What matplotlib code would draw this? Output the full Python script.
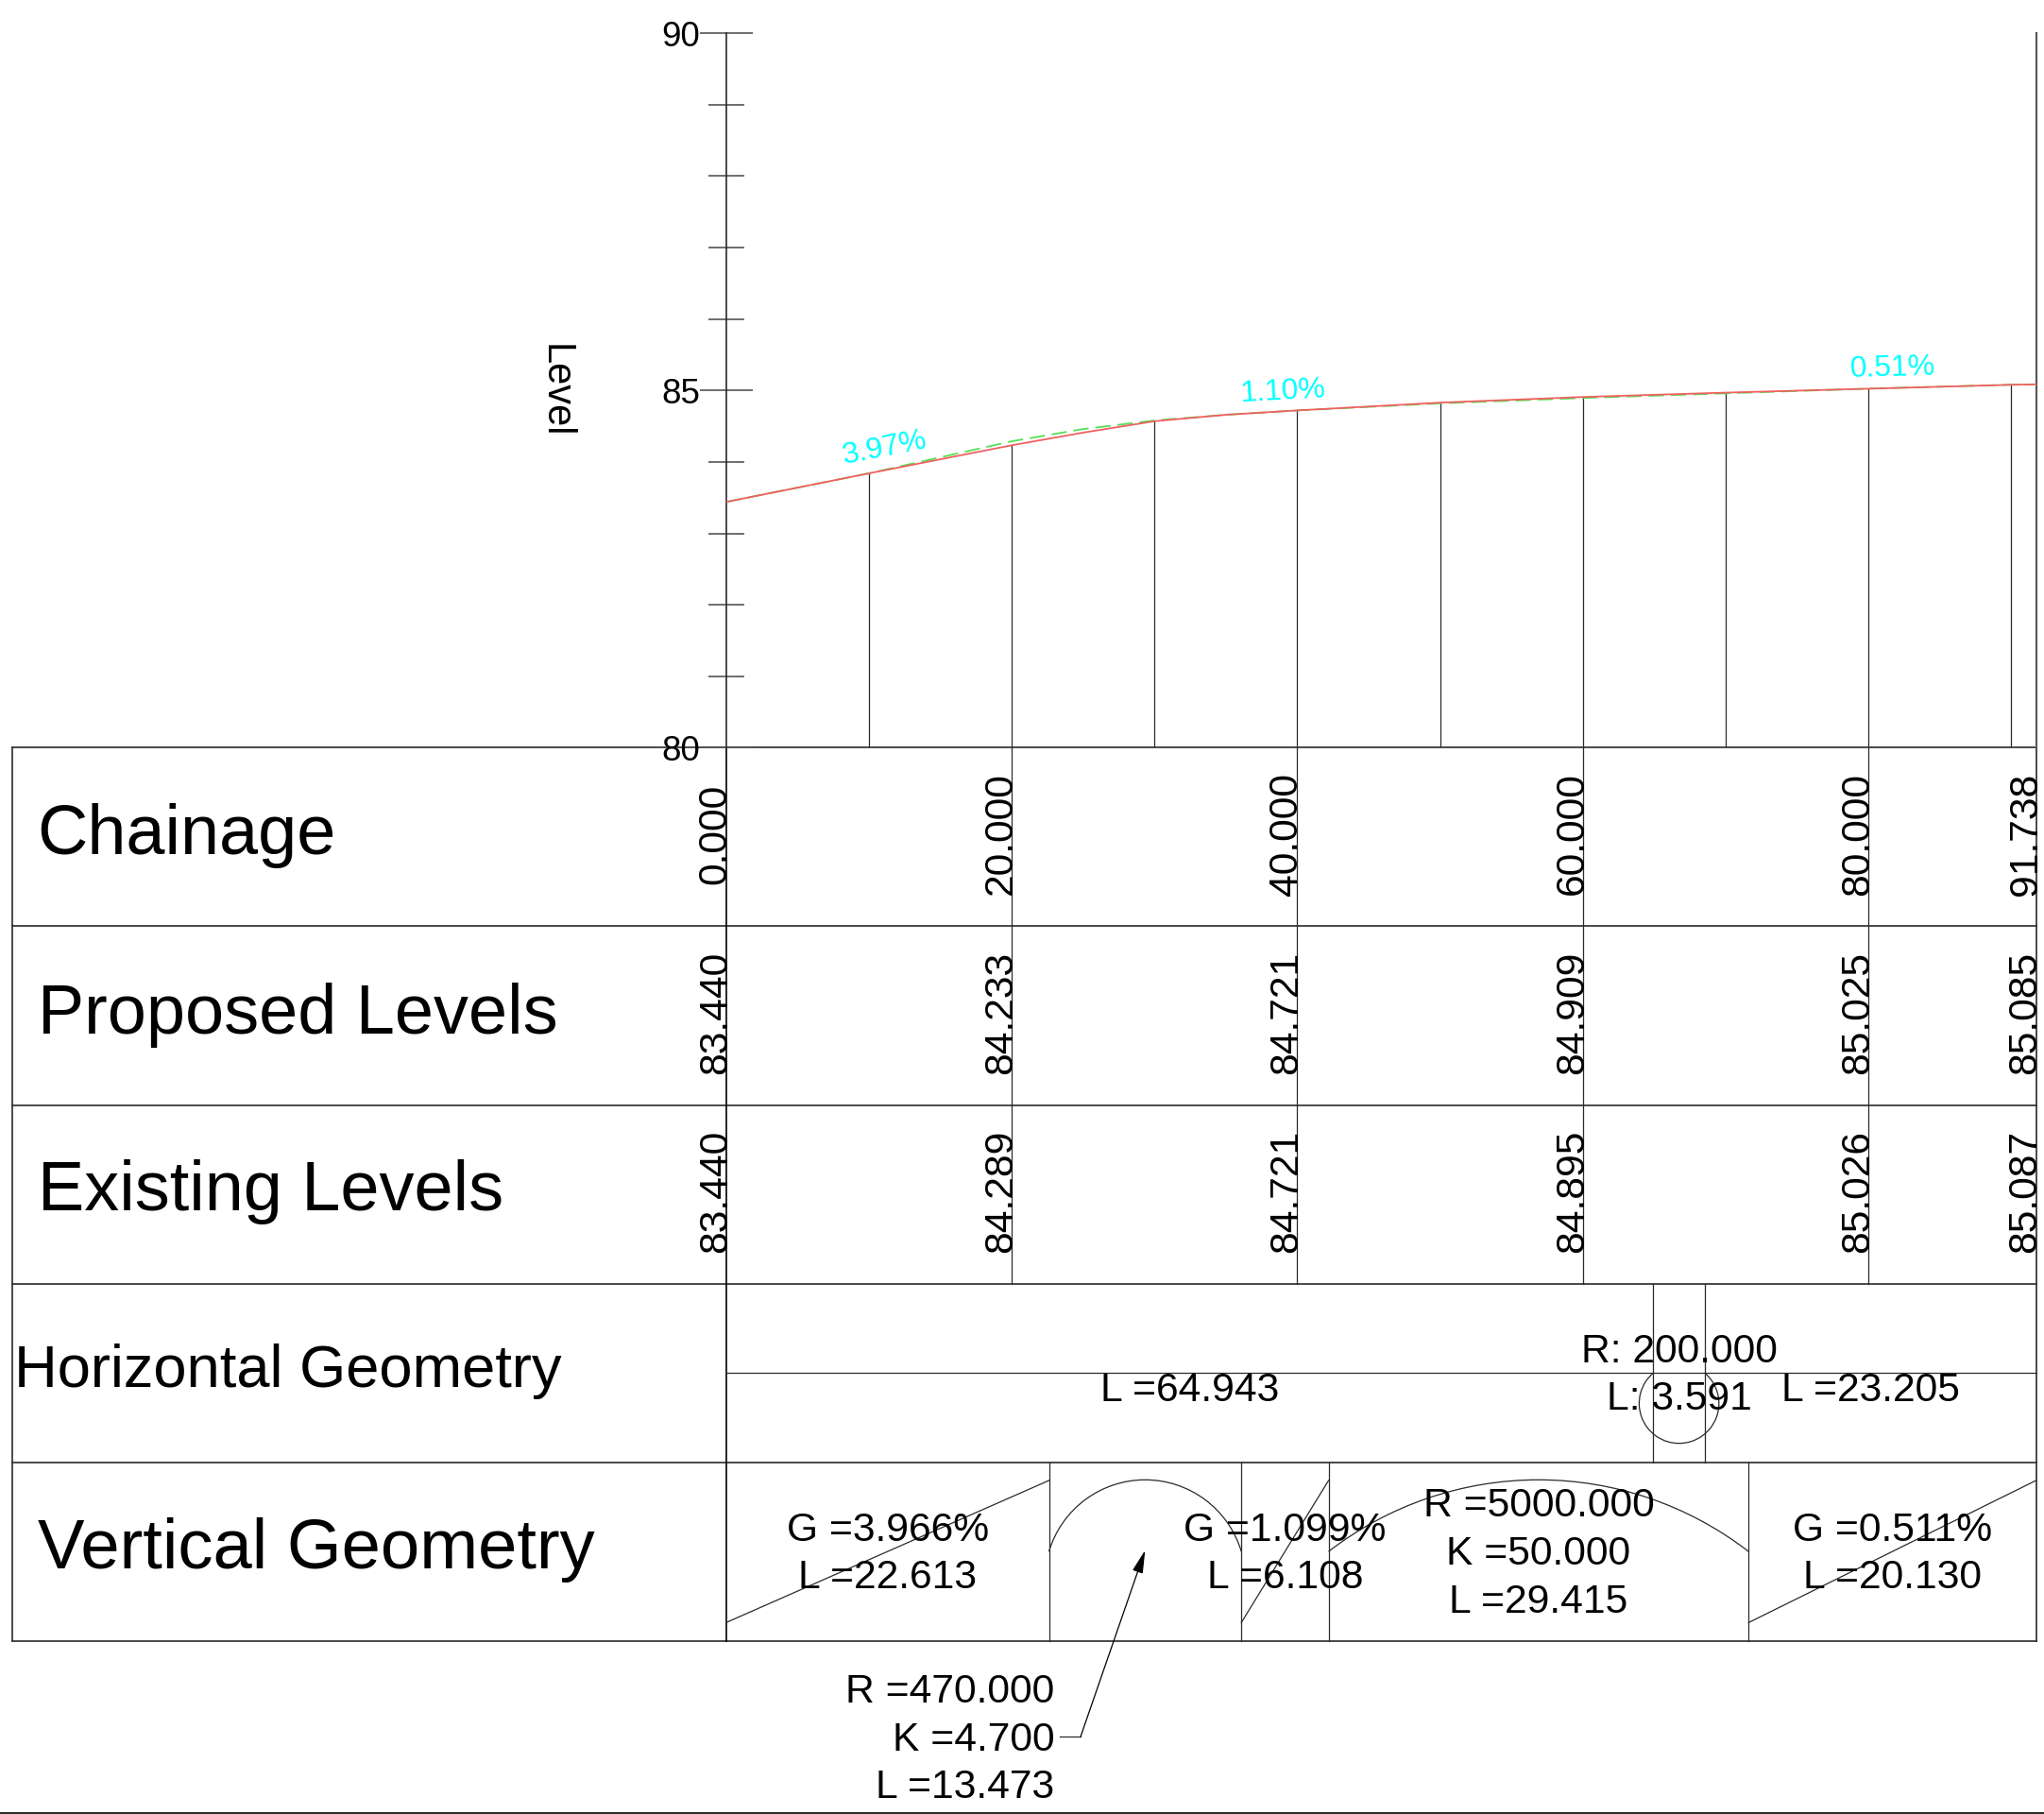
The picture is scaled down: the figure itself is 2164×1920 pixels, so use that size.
import matplotlib
matplotlib.use('Agg')
import matplotlib.pyplot as plt
from matplotlib.patches import Arc
import numpy as np

plt.rcParams['font.family'] = ['Liberation Sans', 'DejaVu Sans']

# long section data
stations = [0, 10, 20, 25, 30, 35, 40, 50, 60, 70, 80, 90, 91.738]
proposed = [83.44, 83.84, 84.233, 84.41, 84.57, 84.66, 84.721, 84.83, 84.909, 84.97, 85.025, 85.08, 85.085]
existing = [83.44, 83.84, 84.289, 84.46, 84.58, 84.66, 84.721, 84.82, 84.895, 84.96, 85.026, 85.08, 85.087]
grid_stations = [10, 20, 30, 40, 50, 60, 70, 80, 90]

label_ch = [0, 20, 40, 60, 80, 91.738]
chainage_txt = ['0.000', '20.000', '40.000', '60.000', '80.000', '91.738']
proposed_txt = ['83.440', '84.233', '84.721', '84.909', '85.025', '85.085']
existing_txt = ['83.440', '84.289', '84.721', '84.895', '85.026', '85.087']

row_names = ['Chainage', 'Proposed Levels', 'Existing Levels', 'Horizontal Geometry', 'Vertical Geometry']

# geometry lengths along the chainage
h_lengths = [64.943, 3.591, 23.205]
v_lengths = [22.613, 13.473, 6.108, 29.415, 20.130]
v_grades = ['3.966', '1.099', '0.511']

grade_txt = ['3.97%', '1.10%', '0.51%']
grade_x = [11.1, 39.0, 81.7]
grade_y = [84.19, 84.98, 85.31]
grade_rot = [11, 3, 1.5]

# sizes below are in overview pixels of the reference
S = 1.38
W, H = 2164, 1920
x0 = 557 * S
x1 = 1562 * S
k = (x1 - x0) / 91.738
y80 = 573.5 * S
y90 = 25.5 * S


def Y(o):
    # overview pixel row -> y of the table axes
    return -(o * S - y80) / k


def curve(ax, a, b, base, sag):
    # circular arc over the chord a-b, negative sag hangs below it
    h = (b - a) / 2
    s = abs(sag)
    r = (h * h + s * s) / (2 * s)
    t = np.degrees(np.arctan2(h, r - s))
    if sag > 0:
        cy, t1, t2 = base + s - r, 90 - t, 90 + t
    else:
        cy, t1, t2 = base - s + r, 270 - t, 270 + t
    ax.add_patch(Arc(((a + b) / 2, cy), 2 * r, 2 * r, theta1=t1, theta2=t2, color=LINE, lw=LW))


LINE = '#2a2a2a'
LW = 0.9
TXT = 30.7

fig = plt.figure(figsize=(W / 100, H / 100), dpi=100)

# table and everything else, same scale both ways
tb = fig.add_axes([0, 0, 1, 1])
tb.set_xlim(-x0 / k, (W - x0) / k)
tb.set_ylim(-(H - y80) / k, y80 / k)
tb.axis('off')

left = -(557 - 9.5) * S / k
right = 91.738
rows = [573.5, 710.5, 847.5, 984.5, 1121.5, 1258.5]
for r in rows:
    tb.plot([left, right], [Y(r), Y(r)], color=LINE, lw=LW + 0.3)
tb.plot([left, left], [Y(rows[0]), Y(rows[-1])], color=LINE, lw=LW + 0.3)
tb.plot([right, right], [Y(rows[0]), Y(rows[-1])], color=LINE, lw=LW + 0.3)
tb.plot([0, 0], [Y(rows[0]), Y(rows[-1])], color='black', lw=LW + 0.3)

for c in label_ch[1:-1]:
    tb.plot([c, c], [Y(rows[0]), Y(rows[3])], color=LINE, lw=LW)

row_y = [635.5, 773, 909, 1047, 1183]
row_x = [28.5, 29, 29, 11, 29]
row_size = [53.2, 53.2, 53.2, 45.5, 53.5]
for name, o, ox, fs in zip(row_names, row_y, row_x, row_size):
    tb.text((ox - 557) * S / k, Y(o), name, fontsize=fs, ha='left', va='center_baseline')

for i, c in enumerate(label_ch):
    for txts, o in zip([chainage_txt, proposed_txt, existing_txt], [639.5, 776.5, 913.5]):
        tb.text(c, Y(o), txts[i], fontsize=TXT, rotation=90, rotation_mode='anchor',
                ha='center', va='baseline', clip_on=True)

# horizontal geometry
h_ends = np.cumsum(h_lengths)
h_mid = Y(1053)
tb.plot([0, right], [h_mid, h_mid], color=LINE, lw=LW)
for c in h_ends[:2]:
    tb.plot([c, c], [Y(rows[3]), Y(rows[4])], color=LINE, lw=LW)
curve(tb, h_ends[0], h_ends[1], h_mid, -(1107 - 1053) * S / k)
tb.text(h_ends[0] / 2, Y(1067), 'L =%.3f' % h_lengths[0], fontsize=TXT, ha='center', va='center')
tb.text((h_ends[1] + h_ends[2]) / 2, Y(1067), 'L =%.3f' % h_lengths[2], fontsize=TXT, ha='center', va='center')
hc = (h_ends[0] + h_ends[1]) / 2
tb.text(hc, Y(1037), 'R: 200.000', fontsize=TXT, ha='center', va='center')
tb.text(hc, Y(1073), 'L: %.3f' % h_lengths[1], fontsize=TXT, ha='center', va='center')

# vertical geometry
v_ends = np.cumsum(v_lengths)
v_start = np.concatenate([[0], v_ends[:-1]])
for c in v_ends[:-1]:
    tb.plot([c, c], [Y(rows[4]), Y(rows[5])], color=LINE, lw=LW)
for i, g in zip([0, 2, 4], v_grades):
    tb.plot([v_start[i], v_ends[i]], [Y(1244.5), Y(1135.5)], color=LINE, lw=LW)
    mid = (v_start[i] + v_ends[i]) / 2
    tb.text(mid, Y(1174), 'G =%s%%' % g, fontsize=TXT, ha='center', va='center')
    tb.text(mid, Y(1210), 'L =%.3f' % v_lengths[i], fontsize=TXT, ha='center', va='center')
for i in [1, 3]:
    curve(tb, v_start[i], v_ends[i], Y(1190), (1190 - 1135) * S / k)

mid = (v_start[3] + v_ends[3]) / 2
for o, t in zip([1155, 1192, 1229], ['R =5000.000', 'K =50.000', 'L =%.3f' % v_lengths[3]]):
    tb.text(mid, Y(o), t, fontsize=TXT, ha='center', va='center')

xr = (809 - 557) * S / k
for o, t in zip([1298, 1335, 1371], ['R =470.000', 'K =4.700', 'L =%.3f' % v_lengths[1]]):
    tb.text(xr, Y(o), t, fontsize=TXT, ha='right', va='center')

# leader for the crest curve
xa = (v_start[1] + v_ends[1]) / 2
xk = (829 - 557) * S / k
tb.plot([(813 - 557) * S / k, xk], [Y(1332), Y(1332)], color=LINE, lw=LW)
tb.annotate('', xy=(xa, Y(1189)), xytext=(xk, Y(1332)),
            arrowprops=dict(arrowstyle='-|>,head_length=1.5,head_width=0.35', color='black', lw=LW,
                            shrinkA=0, shrinkB=0))

tb.plot([right, right], [Y(rows[0]), Y(25.5)], color='#555555', lw=LW + 0.6)
tb.plot([-x0 / k, (W - x0) / k], [Y(1390.3), Y(1390.3)], color=LINE, lw=LW + 0.6)

# long section
ax = fig.add_axes([x0 / W, 1 - y80 / H, (x1 - x0) / W, (y80 - y90) / H])
ax.patch.set_alpha(0)
ax.set_xlim(0, 91.738)
ax.set_ylim(80, 90)
for s in ['top', 'right', 'bottom']:
    ax.spines[s].set_visible(False)
ax.spines['left'].set_linewidth(LW + 0.3)
ax.spines['left'].set_color(LINE)
ax.set_xticks([])
ax.set_yticks([80, 85, 90])
ax.set_yticks([81, 82, 83, 84, 86, 87, 88, 89], minor=True)
ax.tick_params(axis='y', which='major', direction='inout', length=39.8, width=LW + 0.3, color='#555555',
               labelsize=26.5, pad=0)
ax.tick_params(axis='y', which='minor', direction='inout', length=27.9, width=LW + 0.3, color='#555555')
ax.set_ylabel('Level', fontsize=30, rotation=-90, va='center', ha='center')
ax.yaxis.set_label_coords((426 - 557) * S / (x1 - x0), (573.5 - 300) / (573.5 - 25.5))

for c in grid_stations:
    lvl = np.interp(c, stations, proposed)
    ax.plot([c, c], [80, lvl], color=LINE, lw=LW, zorder=1)
ax.plot(stations, existing, color='#55e055', lw=1.3, ls=(0, (9, 4)), zorder=2)
ax.plot(stations, proposed, color='#f06060', lw=1.3, zorder=3)
for x, y, t, rot in zip(grade_x, grade_y, grade_txt, grade_rot):
    ax.text(x, y, t, color='#00ffff', fontsize=23, ha='center', va='center', rotation=rot,
            rotation_mode='anchor')

fig.savefig('out.png', dpi=100, facecolor='white')
